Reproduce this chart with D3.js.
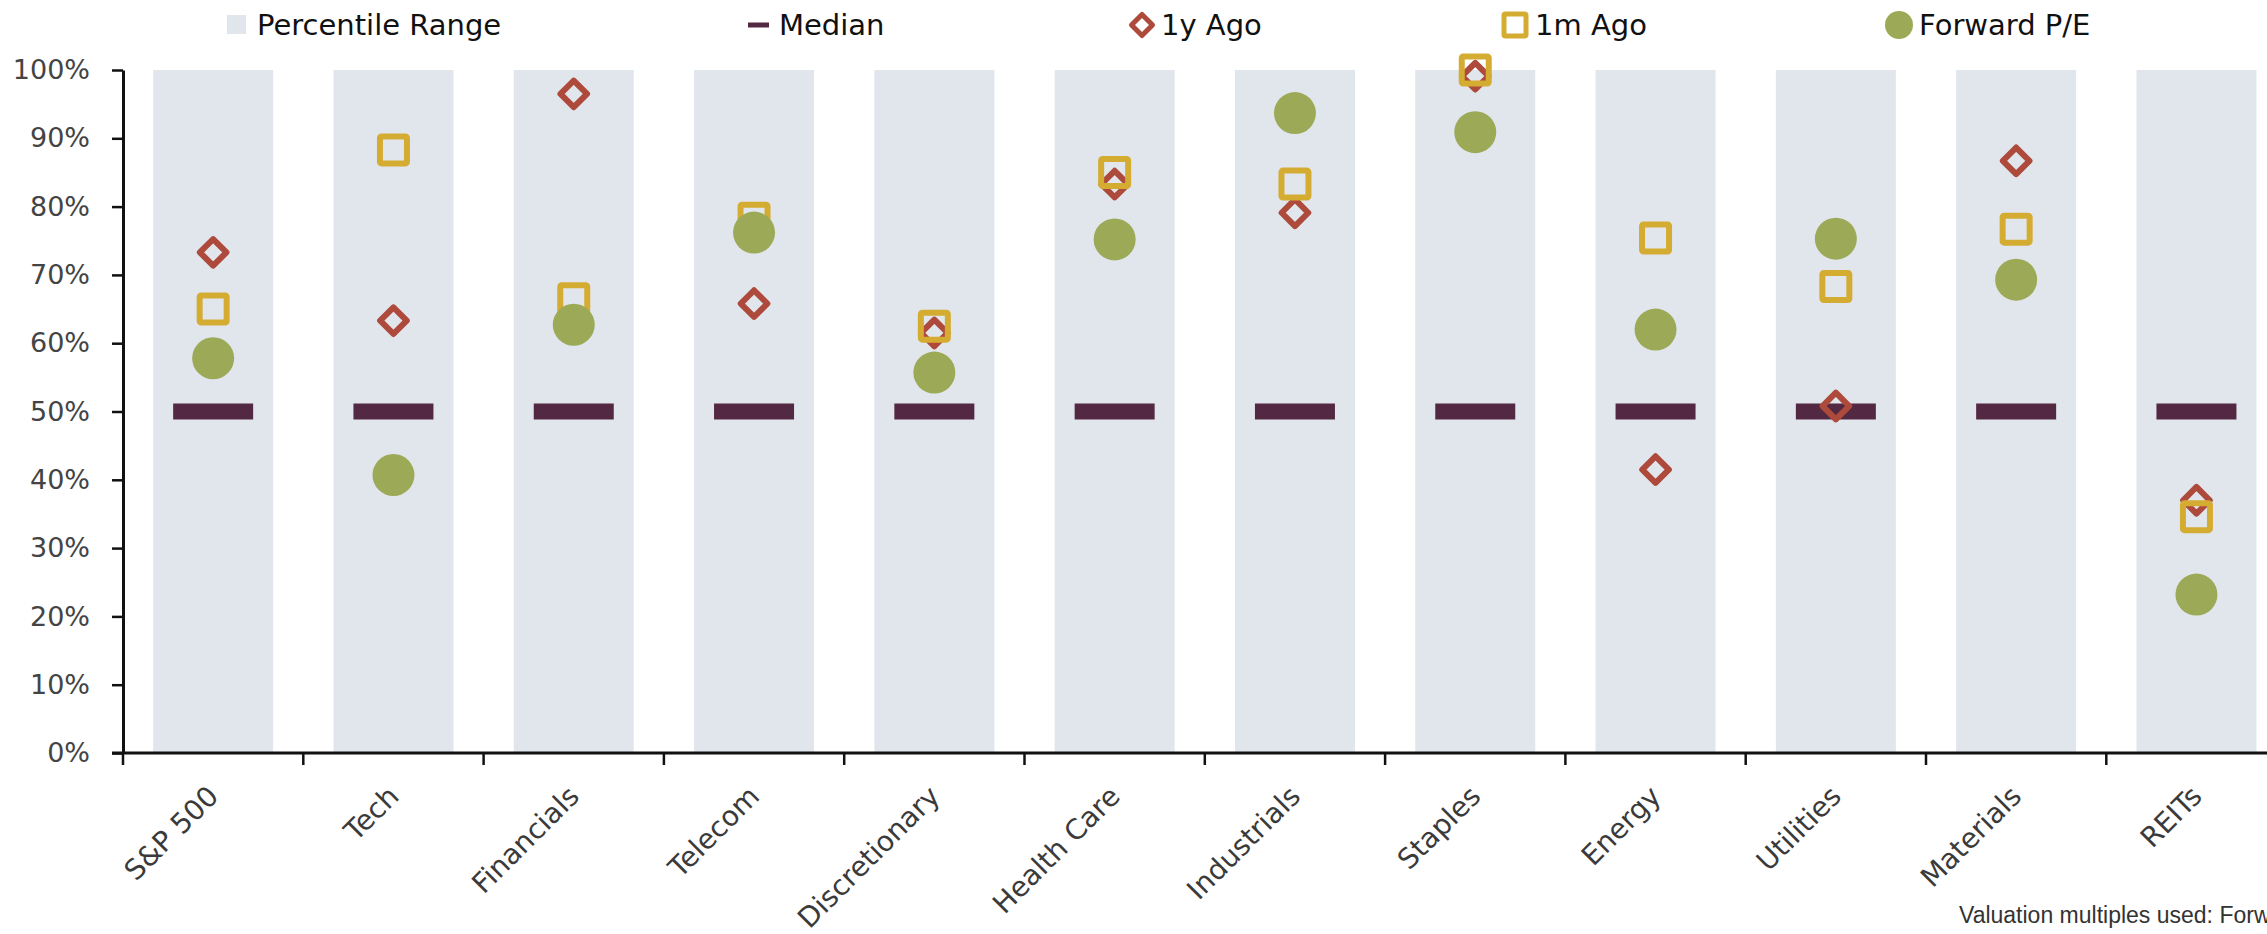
<!DOCTYPE html>
<html>
<head>
<meta charset="utf-8">
<script src="https://cdn.jsdelivr.net/npm/d3@7"></script>
<style>
  html, body { margin: 0; padding: 0; background: #fff; overflow: hidden; }
  svg { display: block; }
</style>
</head>
<body>
<div id="chart"></div>
<script>
// ---- data ----
const categories = ["S&P 500", "Tech", "Financials", "Telecom", "Discretionary", "Health Care",
                    "Industrials", "Staples", "Energy", "Utilities", "Materials", "REITs"];
const rangeLow   = [0, 0, 0, 0, 0, 0, 0, 0, 0, 0, 0, 0];
const rangeHigh  = [100, 100, 100, 100, 100, 100, 100, 100, 100, 100, 100, 100];
const median     = [50, 50, 50, 50, 50, 50, 50, 50, 50, 50, 50, 50];
const yearAgo    = [73.3, 63.3, 96.5, 65.8, 61.5, 83.3, 79.1, 99.1, 41.5, 50.8, 86.7, 37.0];
const monthAgo   = [65.0, 88.3, 66.5, 78.3, 62.5, 85.0, 83.3, 100.0, 75.4, 68.3, 76.7, 34.6];
const forwardPE  = [57.8, 40.7, 62.7, 76.2, 55.7, 75.2, 93.7, 90.9, 62.0, 75.3, 69.3, 23.2];
const yTicks     = [0, 10, 20, 30, 40, 50, 60, 70, 80, 90, 100];
const legendLabels = ["Percentile Range", "Median", "1y Ago", "1m Ago", "Forward P/E"];
const footnote   = "Valuation multiples used: Forward P/E";

// ---- layout / style ----
const W = 2267, H = 934;
const colors = { band: "#e1e6ed", median: "#532843", year: "#ad4a3b", month: "#d5ac32", fwd: "#9caa57" };
const plotLeft = 123, bandStep = 180.3, plotTop = 70, plotBottom = 753;

const svg = d3.select("#chart").append("svg").attr("width", W).attr("height", H);

const x = d3.scaleBand().domain(categories).range([plotLeft, plotLeft + bandStep * categories.length]).padding(0);
const y = d3.scaleLinear().domain([0, 100]).range([plotBottom, plotTop]);
const cx = c => x(c) + x.bandwidth() / 2;

const rows = categories.map((c, i) => ({
  c, lo: rangeLow[i], hi: rangeHigh[i], med: median[i],
  year: yearAgo[i], month: monthAgo[i], fwd: forwardPE[i]
}));

// percentile range bars
const barW = 120;
svg.append("g").selectAll("rect").data(rows).join("rect")
  .attr("x", d => cx(d.c) - barW / 2)
  .attr("width", barW)
  .attr("y", d => y(d.hi))
  .attr("height", d => y(d.lo) - y(d.hi))
  .attr("fill", colors.band);

// median
const medW = 80, medH = 16;
svg.append("g").selectAll("rect").data(rows).join("rect")
  .attr("x", d => cx(d.c) - medW / 2)
  .attr("width", medW)
  .attr("y", d => y(d.med) - medH / 2)
  .attr("height", medH)
  .attr("fill", colors.median);

// diamonds (1y ago)
const dHalf = 13.3;
const diamondPath = (h) => `M0,${-h}L${h},0L0,${h}L${-h},0Z`;
svg.append("g").selectAll("path").data(rows).join("path")
  .attr("d", diamondPath(dHalf))
  .attr("transform", d => `translate(${cx(d.c)},${y(d.year)})`)
  .attr("fill", "none")
  .attr("stroke", colors.year)
  .attr("stroke-width", 6)
  .attr("stroke-linejoin", "round");

// squares (1m ago)
const sq = 27;
svg.append("g").selectAll("rect").data(rows).join("rect")
  .attr("x", d => cx(d.c) - sq / 2)
  .attr("y", d => y(d.month) - sq / 2)
  .attr("width", sq).attr("height", sq)
  .attr("rx", 1.5)
  .attr("fill", "none")
  .attr("stroke", colors.month)
  .attr("stroke-width", 6);

// circles (forward P/E)
svg.append("g").selectAll("circle").data(rows).join("circle")
  .attr("cx", d => cx(d.c))
  .attr("cy", d => y(d.fwd))
  .attr("r", 21)
  .attr("fill", colors.fwd);

// y axis
const yAxis = svg.append("g")
  .attr("transform", `translate(${plotLeft},0)`)
  .call(d3.axisLeft(y).tickValues(yTicks).tickFormat(d => d + "%").tickSize(11).tickSizeOuter(0).tickPadding(22));
yAxis.select(".domain").attr("stroke", "#111").attr("stroke-width", 3);
yAxis.selectAll(".tick line").attr("stroke", "#111").attr("stroke-width", 2.5);
yAxis.selectAll(".tick text")
  .attr("font-family", "'DejaVu Sans', sans-serif")
  .attr("font-size", 27)
  .attr("fill", "#444");

// x axis
const xAxis = svg.append("g");
xAxis.append("line")
  .attr("x1", plotLeft - 11).attr("x2", W + 40)
  .attr("y1", plotBottom).attr("y2", plotBottom)
  .attr("stroke", "#111").attr("stroke-width", 3);
xAxis.selectAll("line.tk").data(categories).join("line")
  .attr("class", "tk")
  .attr("x1", d => x(d)).attr("x2", d => x(d))
  .attr("y1", plotBottom).attr("y2", plotBottom + 12)
  .attr("stroke", "#111").attr("stroke-width", 2.5);
xAxis.selectAll("text").data(categories).join("text")
  .attr("transform", d => `translate(${cx(d) + 7},${plotBottom + 45}) rotate(-45)`)
  .attr("text-anchor", "end")
  .attr("font-family", "'DejaVu Sans', sans-serif")
  .attr("font-size", 28)
  .attr("fill", "#3a3a3a")
  .text(d => d);

// legend
const lg = svg.append("g").attr("font-family", "'DejaVu Sans', sans-serif").attr("font-size", 29).attr("fill", "#111");
const ly = 25;
lg.append("rect").attr("x", 227).attr("y", 15).attr("width", 19).attr("height", 19).attr("fill", colors.band);
lg.append("rect").attr("x", 748).attr("y", ly - 2.5).attr("width", 21).attr("height", 5).attr("fill", colors.median);
lg.append("path").attr("d", diamondPath(10.5)).attr("transform", `translate(1142,${ly})`)
  .attr("fill", "none").attr("stroke", colors.year).attr("stroke-width", 5).attr("stroke-linejoin", "round");
lg.append("rect").attr("x", 1515 - 11).attr("y", ly - 11).attr("width", 22).attr("height", 22).attr("rx", 1.5)
  .attr("fill", "none").attr("stroke", colors.month).attr("stroke-width", 5);
lg.append("circle").attr("cx", 1899).attr("cy", ly).attr("r", 14).attr("fill", colors.fwd);
const lx = [257, 779, 1161, 1535, 1919];
lg.selectAll("text").data(legendLabels).join("text")
  .attr("x", (d, i) => lx[i]).attr("y", 35)
  .text(d => d);

// footnote (cut off at the right edge, as in the reference)
svg.append("text")
  .attr("x", 1959).attr("y", 923)
  .attr("font-family", "'Liberation Sans', Arial, sans-serif")
  .attr("font-size", 23)
  .attr("fill", "#333")
  .text(footnote);
</script>
</body>
</html>
